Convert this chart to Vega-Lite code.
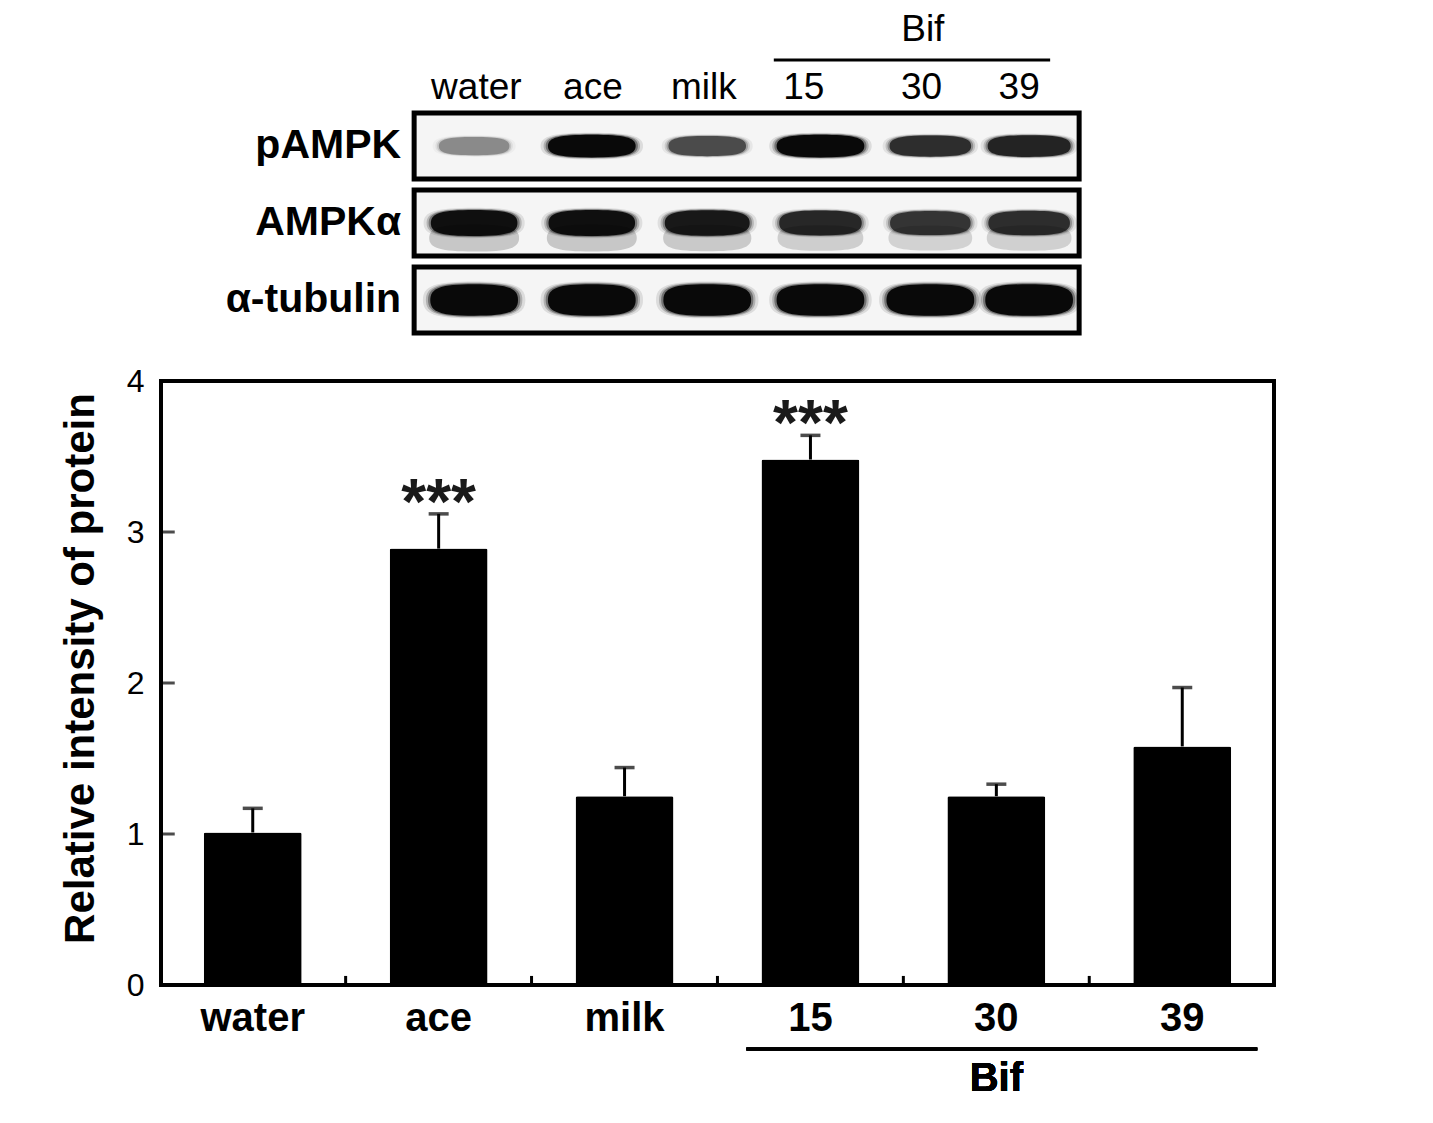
{
  "$schema": "https://vega.github.io/schema/vega-lite/v6.json",
  "background": "white",
  "padding": {"left": 57, "top": 11, "right": 5, "bottom": 5},
  "config": {"font": "Liberation Sans", "view": {"stroke": null}},
  "spacing": 27,
  "datasets": {
    "bars": [
      {"group": "water", "mean": 1.01, "upper": 1.17, "sig": ""},
      {"group": "ace", "mean": 2.89, "upper": 3.12, "sig": "***"},
      {"group": "milk", "mean": 1.25, "upper": 1.44, "sig": ""},
      {"group": "15", "mean": 3.48, "upper": 3.64, "sig": "***"},
      {"group": "30", "mean": 1.25, "upper": 1.33, "sig": ""},
      {"group": "39", "mean": 1.58, "upper": 1.97, "sig": ""}
    ],
    "yticks": [{"v": 1}, {"v": 2}, {"v": 3}],
    "lanes": [
      {"lane": "water", "pos": 1.01, "labelPos": 1.03, "set": ""},
      {"lane": "ace", "pos": 2.07, "labelPos": 2.08, "set": ""},
      {"lane": "milk", "pos": 3.11, "labelPos": 3.08, "set": ""},
      {"lane": "15", "pos": 4.13, "labelPos": 3.98, "set": "Bif"},
      {"lane": "30", "pos": 5.12, "labelPos": 5.04, "set": "Bif"},
      {"lane": "39", "pos": 6.01, "labelPos": 5.92, "set": "Bif"}
    ],
    "blot": [
      {"row": "pAMPK", "lane": "water", "intensity": 0.32},
      {"row": "pAMPK", "lane": "ace", "intensity": 1.0},
      {"row": "pAMPK", "lane": "milk", "intensity": 0.58},
      {"row": "pAMPK", "lane": "15", "intensity": 1.0},
      {"row": "pAMPK", "lane": "30", "intensity": 0.74},
      {"row": "pAMPK", "lane": "39", "intensity": 0.8},
      {"row": "AMPKα", "lane": "water", "intensity": 0.95},
      {"row": "AMPKα", "lane": "ace", "intensity": 0.95},
      {"row": "AMPKα", "lane": "milk", "intensity": 0.88},
      {"row": "AMPKα", "lane": "15", "intensity": 0.78},
      {"row": "AMPKα", "lane": "30", "intensity": 0.7},
      {"row": "AMPKα", "lane": "39", "intensity": 0.74},
      {"row": "α-tubulin", "lane": "water", "intensity": 1.0},
      {"row": "α-tubulin", "lane": "ace", "intensity": 1.0},
      {"row": "α-tubulin", "lane": "milk", "intensity": 1.0},
      {"row": "α-tubulin", "lane": "15", "intensity": 1.0},
      {"row": "α-tubulin", "lane": "30", "intensity": 1.0},
      {"row": "α-tubulin", "lane": "39", "intensity": 1.0}
    ]
  },
  "vconcat": [
    {
      "width": 1113,
      "height": 220,
      "data": {"name": "blot"},
      "transform": [
        {"lookup": "lane", "from": {"data": {"name": "lanes"}, "key": "lane", "fields": ["pos", "set"]}}
      ],
      "encoding": {
        "x": {"field": "pos", "type": "quantitative", "scale": {"domain": [-1.811, 8.216], "nice": false, "zero": false}, "axis": null},
        "y": {"field": "row", "type": "nominal", "scale": {"type": "point", "domain": ["pAMPK", "AMPKα", "α-tubulin"], "padding": 0.43}, "axis": null}
      },
      "layer": [
        {
          "transform": [{"aggregate": [{"op": "min", "field": "pos", "as": "lo"}, {"op": "max", "field": "pos", "as": "hi"}], "groupby": ["row"]}],
          "mark": {"type": "rect", "fill": "#f5f5f5", "stroke": "black", "strokeWidth": 5, "xOffset": -60, "x2Offset": 50, "yOffset": -33, "y2Offset": 33},
          "encoding": {
            "x": {"field": "lo", "type": "quantitative"},
            "x2": {"field": "hi"},
            "y": {"field": "row", "type": "nominal"},
            "y2": {"field": "row"}
          }
        },
        {
          "transform": [{"filter": "datum.row === 'AMPKα'"}],
          "mark": {"type": "point", "filled": true, "color": "black", "opacity": 0.2, "yOffset": 15},
          "encoding": {
            "shape": {"field": "row", "type": "nominal", "scale": {"domain": ["pAMPK", "AMPKα", "α-tubulin"], "range": ["M-1,0C-1,-0.2 -0.75,-0.26 0,-0.26C0.75,-0.26 1,-0.2 1,0C1,0.2 0.75,0.26 0,0.26C-0.75,0.26 -1,0.2 -1,0Z", "M-1,0C-1,-0.23 -0.75,-0.3 0,-0.3C0.75,-0.3 1,-0.23 1,0C1,0.23 0.75,0.3 0,0.3C-0.75,0.3 -1,0.23 -1,0Z", "M-1,0C-1,-0.27 -0.78,-0.36 0,-0.36C0.78,-0.36 1,-0.27 1,0C1,0.27 0.78,0.36 0,0.36C-0.78,0.36 -1,0.27 -1,0Z"]}, "legend": null},
            "size": {"field": "intensity", "type": "quantitative", "scale": {"domain": [0.3, 1], "range": [5300, 8300]}, "legend": null},
            "fillOpacity": {"field": "intensity", "type": "quantitative", "scale": {"domain": [0, 1], "range": [0, 1]}, "legend": null}
          }
        },
        {
          "mark": {"type": "point", "filled": true, "color": "black", "opacity": 0.1},
          "encoding": {
            "shape": {"field": "row", "type": "nominal", "legend": null},
            "size": {"field": "intensity", "type": "quantitative", "scale": {"domain": [0.3, 1], "range": [6800, 10500]}, "legend": null},
            "fillOpacity": {"field": "intensity", "type": "quantitative", "legend": null}
          }
        },
        {
          "mark": {"type": "point", "filled": true, "color": "black", "opacity": 0.2},
          "encoding": {
            "shape": {"field": "row", "type": "nominal", "legend": null},
            "size": {"field": "intensity", "type": "quantitative", "scale": {"domain": [0.3, 1], "range": [5900, 9300]}, "legend": null},
            "fillOpacity": {"field": "intensity", "type": "quantitative", "legend": null}
          }
        },
        {
          "mark": {"type": "point", "filled": true, "color": "black", "opacity": 0.35},
          "encoding": {
            "shape": {"field": "row", "type": "nominal", "legend": null},
            "size": {"field": "intensity", "type": "quantitative", "scale": {"domain": [0.3, 1], "range": [5400, 8500]}, "legend": null},
            "fillOpacity": {"field": "intensity", "type": "quantitative", "legend": null}
          }
        },
        {
          "mark": {"type": "point", "filled": true, "color": "black", "opacity": 0.92},
          "encoding": {
            "shape": {"field": "row", "type": "nominal", "legend": null},
            "size": {"field": "intensity", "type": "quantitative", "scale": {"domain": [0.3, 1], "range": [4900, 7700]}, "legend": null},
            "fillOpacity": {"field": "intensity", "type": "quantitative", "legend": null}
          }
        },
        {
          "transform": [{"filter": "datum.lane === 'water'"}],
          "mark": {"type": "text", "align": "right", "baseline": "middle", "xOffset": -73, "fontSize": 41, "fontWeight": "bold", "color": "black"},
          "encoding": {
            "text": {"field": "row"}
          }
        },
        {
          "data": {"name": "lanes"},
          "mark": {"type": "text", "align": "center", "baseline": "middle", "dy": -58, "fontSize": 37, "color": "black"},
          "encoding": {
            "x": {"field": "labelPos", "type": "quantitative"},
            "y": {"datum": "pAMPK", "type": "nominal"},
            "text": {"field": "lane"}
          }
        },
        {
          "data": {"name": "lanes"},
          "transform": [{"filter": "datum.set === 'Bif'"}, {"aggregate": [{"op": "min", "field": "labelPos", "as": "lo"}, {"op": "max", "field": "labelPos", "as": "hi"}], "groupby": ["set"]}],
          "mark": {"type": "rule", "color": "black", "strokeWidth": 3, "xOffset": -30, "x2Offset": 31, "yOffset": -86},
          "encoding": {
            "x": {"field": "lo", "type": "quantitative"},
            "x2": {"field": "hi"},
            "y": {"datum": "pAMPK", "type": "nominal"}
          }
        },
        {
          "data": {"name": "lanes"},
          "transform": [{"filter": "datum.set === 'Bif'"}, {"aggregate": [{"op": "mean", "field": "labelPos", "as": "mid"}], "groupby": ["set"]}],
          "mark": {"type": "text", "align": "center", "baseline": "middle", "dy": -116, "dx": 8, "fontSize": 37, "color": "black"},
          "encoding": {
            "x": {"field": "mid", "type": "quantitative"},
            "y": {"datum": "pAMPK", "type": "nominal"},
            "text": {"field": "set"}
          }
        }
      ],
      "resolve": {"scale": {"size": "independent"}}
    },
    {
      "width": 1113,
      "height": 604,
      "view": {"stroke": "black", "strokeWidth": 4},
      "data": {"name": "bars"},
      "encoding": {
        "x": {
          "field": "group", "type": "nominal", "sort": ["water", "ace", "milk", "15", "30", "39"],
          "scale": {"paddingInner": 0.473, "paddingOuter": 0.23},
          "axis": {"title": null, "labelAngle": 0, "labelFontSize": 40, "labelFontWeight": "bold", "labelColor": "black", "ticks": false, "labelPadding": 13, "domain": false, "grid": false}
        }
      },
      "layer": [
        {
          "mark": {"type": "bar", "color": "black", "cornerRadius": 2},
          "encoding": {
            "y": {
              "field": "mean", "type": "quantitative",
              "scale": {"domain": [0, 4], "nice": false},
              "axis": {"values": [0, 1, 2, 3, 4], "format": "d", "title": "Relative intensity of protein", "titleFontSize": 42, "titleFontWeight": "bold", "titleColor": "black", "titlePadding": 24, "titleY": 287, "labelFontSize": 32, "labelColor": "black", "ticks": false, "labelPadding": 17, "domain": false, "grid": false}
            }
          }
        },
        {
          "mark": {"type": "rule", "color": "black", "strokeWidth": 3},
          "encoding": {
            "y": {"field": "mean", "type": "quantitative"},
            "y2": {"field": "upper"}
          }
        },
        {
          "mark": {"type": "tick", "color": "black", "size": 20, "thickness": 3.5},
          "encoding": {
            "y": {"field": "upper", "type": "quantitative"}
          }
        },
        {
          "transform": [{"filter": "datum.group !== '39'"}],
          "mark": {"type": "rule", "color": "black", "strokeWidth": 3, "xOffset": 92.9, "x2Offset": 92.9},
          "encoding": {
            "y": {"datum": 0, "type": "quantitative"},
            "y2": {"datum": 0.06}
          }
        },
        {
          "data": {"name": "yticks"},
          "mark": {"type": "tick", "orient": "horizontal", "color": "black", "size": 14, "thickness": 3, "xOffset": -85},
          "encoding": {
            "x": {"datum": "water", "type": "nominal"},
            "y": {"field": "v", "type": "quantitative"}
          }
        },
        {
          "transform": [{"filter": "datum.sig !== ''"}],
          "mark": {"type": "text", "align": "center", "baseline": "alphabetic", "dy": 10, "fontSize": 64, "fontWeight": "bold", "color": "#1a1a1a"},
          "encoding": {
            "y": {"field": "upper", "type": "quantitative"},
            "text": {"field": "sig"}
          }
        },
        {
          "mark": {"type": "rule", "color": "black", "strokeWidth": 3, "xOffset": -64, "x2Offset": 75},
          "encoding": {
            "x": {"datum": "15", "type": "nominal"},
            "x2": {"datum": "39"},
            "y": {"datum": -0.424, "type": "quantitative"}
          }
        },
        {
          "mark": {"type": "text", "align": "center", "baseline": "middle", "fontSize": 40, "fontWeight": "bold", "color": "black"},
          "encoding": {
            "x": {"datum": "30", "type": "nominal"},
            "y": {"datum": -0.62, "type": "quantitative"},
            "text": {"value": "Bif"}
          }
        }
      ]
    }
  ]
}
